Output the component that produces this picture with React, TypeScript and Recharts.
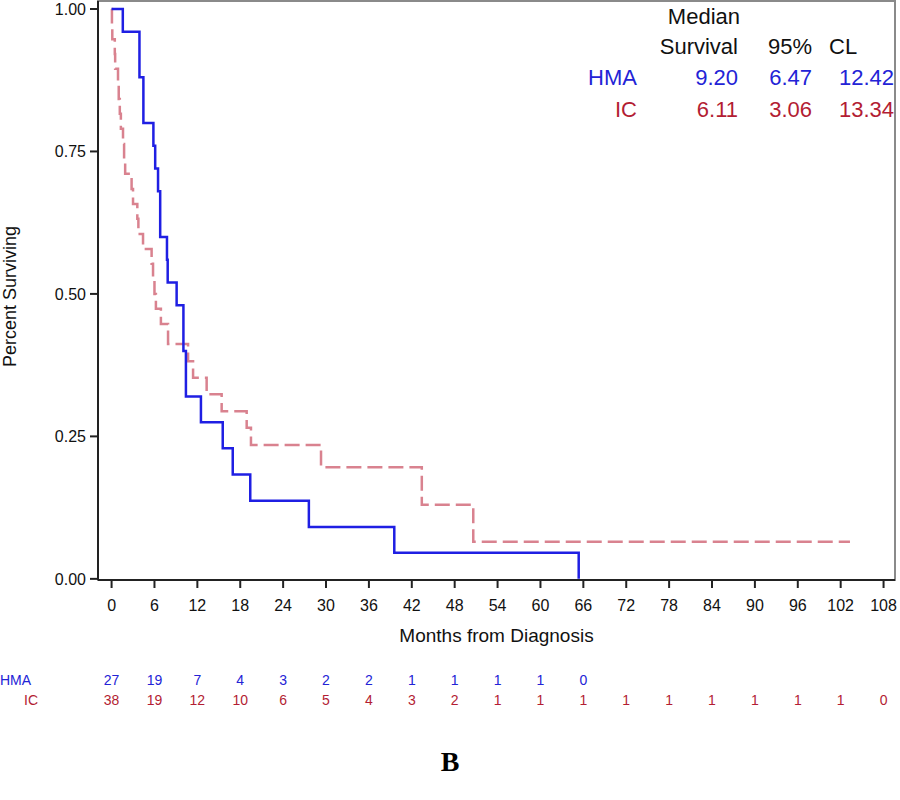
import React from 'react';
import { LineChart, Line, XAxis, YAxis, Label, ReferenceArea } from 'recharts';

// Kaplan-Meier steps (months, survival)
const hmaMonths = [0, 1.57, 3.9, 4.45, 5.85, 6.1, 6.5, 6.8, 7.75, 7.85, 9.1, 10.05, 10.4, 12.5, 15.55, 16.95, 19.4, 27.6, 39.55, 65.35];
const hmaSurvival = [1, 0.96, 0.88, 0.8, 0.76, 0.72, 0.68, 0.6, 0.56, 0.52, 0.48, 0.4, 0.32, 0.275, 0.229, 0.183, 0.137, 0.091, 0.046, 0];

const icMonths = [0, 0.05, 0.1, 0.45, 0.5, 0.9, 1.0, 1.15, 1.3, 1.6, 1.75, 1.9, 2.8, 3.0, 3.6, 3.75, 4.4, 5.6, 5.8, 6.0, 6.2, 6.9, 7.9, 10.7, 11.4, 13.3, 15.4, 18.9, 19.5, 29.3, 43.4, 50.6, 103.3];
const icSurvival = [1, 0.974, 0.947, 0.921, 0.895, 0.868, 0.842, 0.816, 0.79, 0.763, 0.737, 0.711, 0.684, 0.658, 0.632, 0.605, 0.579, 0.553, 0.526, 0.5, 0.474, 0.447, 0.412, 0.382, 0.353, 0.324, 0.294, 0.265, 0.235, 0.196, 0.13, 0.065, 0.065];

const xTicks = [0, 6, 12, 18, 24, 30, 36, 42, 48, 54, 60, 66, 72, 78, 84, 90, 96, 102, 108];
const yTicks = [0, 0.25, 0.5, 0.75, 1];

// numbers at risk, one per x tick (HMA stops at 66)
const hmaAtRisk = [27, 19, 7, 4, 3, 2, 2, 1, 1, 1, 1, 0];
const icAtRisk = [38, 19, 12, 10, 6, 5, 4, 3, 2, 1, 1, 1, 1, 1, 1, 1, 1, 1, 0];

// median survival table
const medianRows = [
  { group: 'HMA', median: '9.20', lower: '6.47', upper: '12.42' },
  { group: 'IC', median: '6.11', lower: '3.06', upper: '13.34' },
];

const BLUE = '#1f1fe3';
const PINK = '#d9828f';
const BLUE_TXT = '#2323d6';
const RED_TXT = '#b31d33';
const FONT = '"Liberation Sans", Arial, sans-serif';

const xDomain = [-1.9, 109.6];
const yDomain = [-0.002, 1.014];

const hmaData = hmaMonths.map((t, i) => ({ t, s: hmaSurvival[i] }));
const icData = icMonths.map((t, i) => ({ t, s: icSurvival[i] }));

// month label plus the at-risk counts underneath, all placed by the x scale
const MonthTick = (props: any) => {
  const { x, y, payload, index } = props;
  const h = hmaAtRisk[index];
  const c = icAtRisk[index];
  return (
    <g>
      <text x={x} y={y} dy="0.71em" textAnchor="middle" fill="#111" fontSize={16}>
        {payload.value}
      </text>
      {h !== undefined && (
        <text x={x} y={y + 75} dy="0.71em" textAnchor="middle" fill={BLUE_TXT} fontSize={14}>
          {h}
        </text>
      )}
      {c !== undefined && (
        <text x={x} y={y + 95} dy="0.71em" textAnchor="middle" fill={RED_TXT} fontSize={14}>
          {c}
        </text>
      )}
    </g>
  );
};

const cell = (left: number, top: number, w: number, text: string, color: string, align: 'left' | 'right' = 'right') => (
  <div style={{ position: 'absolute', left, top, width: w, textAlign: align, color, fontSize: 22, lineHeight: '24px', whiteSpace: 'nowrap' }}>
    {text}
  </div>
);

export default function App() {
  return (
    <div style={{ position: 'absolute', left: 0, top: 0, width: 900, height: 800, background: '#fff', fontFamily: FONT }}>
      <LineChart width={900} height={800} margin={{ top: 1, right: 5, bottom: 140, left: 0 }} style={{ fontFamily: FONT }}>
        <ReferenceArea x1={xDomain[0]} x2={xDomain[1]} y1={yDomain[0]} y2={yDomain[1]} fill="none" stroke="#8a8a8a" strokeWidth={2} ifOverflow="visible" />
        <XAxis
          dataKey="t"
          type="number"
          domain={xDomain}
          ticks={xTicks}
          interval={0}
          allowDataOverflow
          height={80}
          stroke="#222"
          strokeWidth={2}
          tickSize={8}
          tickMargin={12}
          tick={<MonthTick />}
        >
          <Label value="Months from Diagnosis" position="insideBottom" offset={18} style={{ fill: '#111', fontSize: 19 }} />
        </XAxis>
        <YAxis
          type="number"
          domain={yDomain}
          ticks={yTicks}
          interval={0}
          allowDataOverflow
          width={98}
          stroke="#222"
          strokeWidth={2}
          tickSize={8}
          tickMargin={4}
          tickFormatter={(v: number) => v.toFixed(2)}
          tick={{ fill: '#111', fontSize: 16 }}
        >
          <Label
            content={({ viewBox }: any) => {
              const cy = viewBox.y + viewBox.height / 2 + 6;
              return (
                <text x={10} y={cy} transform={`rotate(-90 10 ${cy})`} textAnchor="middle" dominantBaseline="central" fill="#111" fontSize={18}>
                  Percent Surviving
                </text>
              );
            }}
          />
        </YAxis>
        <Line data={icData} dataKey="s" type="stepAfter" stroke={PINK} strokeWidth={2.5} strokeDasharray="15 6" dot={false} isAnimationActive={false} />
        <Line data={hmaData} dataKey="s" type="stepAfter" stroke={BLUE} strokeWidth={2.5} dot={false} isAnimationActive={false} />
      </LineChart>

      {cell(620, 5, 120, 'Median', '#111')}
      {cell(620, 35, 118, 'Survival', '#111')}
      {cell(740, 35, 72, '95%', '#111')}
      {cell(829, 35, 60, 'CL', '#111', 'left')}
      {medianRows.map((r, i) => (
        <React.Fragment key={r.group}>
          {cell(560, 66 + i * 32, 77, r.group, i === 0 ? BLUE_TXT : RED_TXT)}
          {cell(640, 66 + i * 32, 98, r.median, i === 0 ? BLUE_TXT : RED_TXT)}
          {cell(740, 66 + i * 32, 72, r.lower, i === 0 ? BLUE_TXT : RED_TXT)}
          {cell(812, 66 + i * 32, 82, r.upper, i === 0 ? BLUE_TXT : RED_TXT)}
        </React.Fragment>
      ))}

      <div style={{ position: 'absolute', left: 0, top: 671, width: 29, textAlign: 'right', color: BLUE_TXT, fontSize: 14, lineHeight: '18px' }}>HMA</div>
      <div style={{ position: 'absolute', left: 0, top: 691, width: 38, textAlign: 'right', color: RED_TXT, fontSize: 14, lineHeight: '18px' }}>IC</div>

      <div style={{ position: 'absolute', left: 400, top: 746, width: 100, textAlign: 'center', fontFamily: '"Liberation Serif", "Times New Roman", serif', fontWeight: 'bold', fontSize: 28 }}>
        B
      </div>
    </div>
  );
}
